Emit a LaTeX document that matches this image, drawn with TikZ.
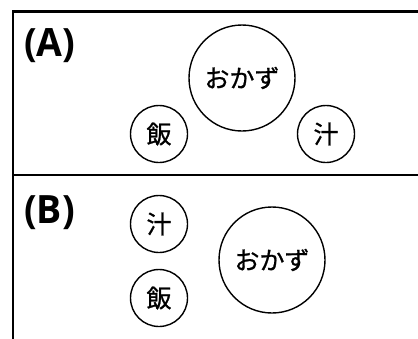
\documentclass[tikz,border=0pt]{standalone}
\usepackage{fontspec}
\newfontfamily\jp{Noto Sans CJK JP}[FakeBold=0.8]
\newfontfamily\lab{Open Sans}
\begin{document}
\begin{tikzpicture}[x=1pt,y=-1pt,
  dish/.style={draw,circle,line width=1.4pt,inner sep=0pt,font=\jp\fontsize{25}{25}\selectfont},
  big/.style={dish,minimum size=106pt},
  small/.style={dish,minimum size=57pt},
  panel/.style={font=\lab\bfseries\fontsize{39}{39}\selectfont,anchor=west,inner sep=0pt},
  frame/.style={line width=2.2pt}]
\useasboundingbox (0,0) rectangle (418,338);
\begin{scope}
\clip (0,0) rectangle (418,338);
\coordinate (bl) at (13,340);
\coordinate (tl) at (13,11.5);
\coordinate (tr) at (420,11.5);
\coordinate (ml) at (13,175);
\coordinate (mr) at (420,175);
\draw[frame] (bl) -- (tl) -- (tr);
\draw[frame] (ml) -- (mr);
\end{scope}
\node[panel] (la) at (24,45.5) {\scalebox{0.96}[1]{(A)}};
\node[panel] (lb) at (24,213) {\scalebox{0.96}[1]{(B)}};
\node[big] (oa) at (242,78) {おかず};
\node[small] (ha) at (159,134) {飯};
\node[small] (sa) at (326,134) {汁};
\node[small] (sb) at (159,224) {汁};
\node[small] (hb) at (159,298) {飯};
\node[big] (ob) at (272,260) {おかず};
\end{tikzpicture}
\end{document}
